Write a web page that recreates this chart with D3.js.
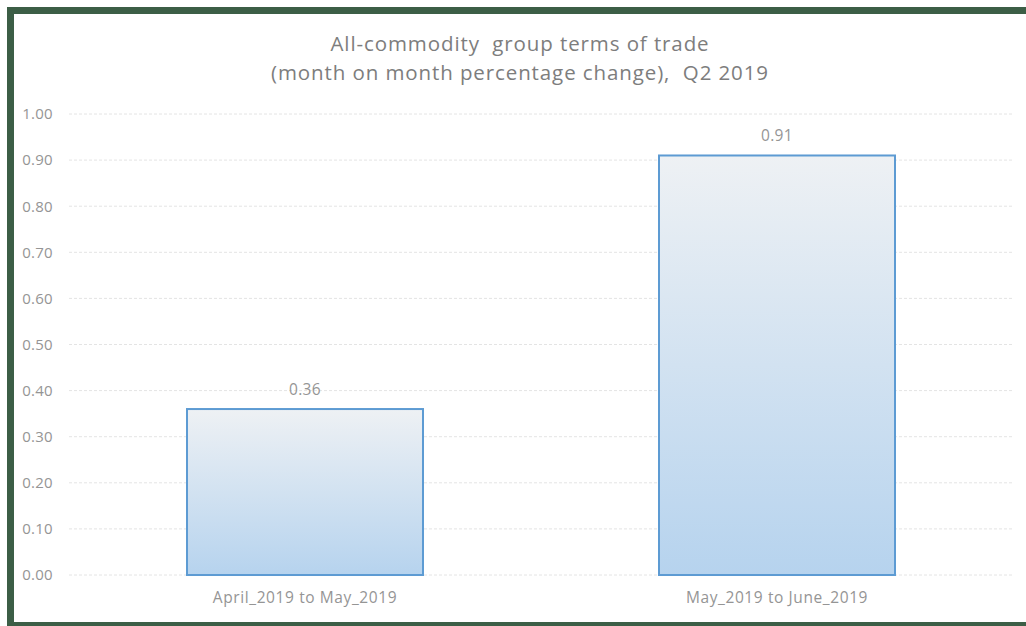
<!DOCTYPE html>
<html><head><meta charset="utf-8">
<script src="https://cdn.jsdelivr.net/npm/d3@7"></script>
<style>body{margin:0;background:#fff}svg{display:block}</style>
</head><body>
<script>
const categories = ["April_2019 to May_2019", "May_2019 to June_2019"];
const values = [0.36, 0.91];
const yTicks = [0,0.1,0.2,0.3,0.4,0.5,0.6,0.7,0.8,0.9,1.0];
const titleLines = ["All-commodity  group terms of trade", "(month on month percentage change),  Q2 2019"];

const W = 1026, H = 626;
const svg = d3.select("body").append("svg").attr("width", W).attr("height", H);
const font = "'Open Sans', Lato, sans-serif";

// frame
svg.append("rect").attr("x",7).attr("y",7).attr("width",W).attr("height",H).attr("fill","#3c5e46");
svg.append("rect").attr("x",14).attr("y",14).attr("width",W).attr("height",608).attr("fill","#fff");

const defs = svg.append("defs");
const g = defs.append("linearGradient").attr("id","bg").attr("x1",0).attr("y1",0).attr("x2",0).attr("y2",1);
g.append("stop").attr("offset","0%").attr("stop-color","#eef1f4");
g.append("stop").attr("offset","100%").attr("stop-color","#b6d3ee");

const x = d3.scaleBand().domain(categories).range([69,1013]).paddingInner(0.5).paddingOuter(0.25);
const y = d3.scaleLinear().domain([0,1]).range([575,114]);

// gridlines
svg.append("g").selectAll("line").data(yTicks).join("line")
  .attr("x1",69).attr("x2",1013).attr("y1",d=>y(d)).attr("y2",d=>y(d))
  .attr("stroke","#e4e4e4").attr("stroke-width",1).attr("stroke-dasharray","3,2");

// y axis labels
const yAxis = d3.axisLeft(y).tickValues(yTicks).tickFormat(d3.format(".2f")).tickSize(0).tickPadding(0);
const ya = svg.append("g").attr("transform","translate(53,0)").call(yAxis);
ya.select(".domain").remove();
ya.selectAll("text").attr("fill","#959595").attr("font-size",15).attr("font-family",font).attr("letter-spacing",0.3);

// bars
svg.append("g").selectAll("rect").data(values).join("rect")
  .attr("x",(d,i)=>x(categories[i])).attr("width",x.bandwidth())
  .attr("y",d=>y(d)).attr("height",d=>y(0)-y(d))
  .attr("fill","url(#bg)").attr("stroke","#5d9bd3").attr("stroke-width",2);

// value labels
svg.append("g").selectAll("text").data(values).join("text")
  .attr("x",(d,i)=>x(categories[i])+x.bandwidth()/2).attr("y",d=>y(d)-14)
  .attr("text-anchor","middle").attr("fill","#959595").attr("font-size",15.5).attr("font-family",font).attr("letter-spacing",0.3)
  .text(d=>d3.format(".2f")(d));

// x axis labels
const xAxis = d3.axisBottom(x).tickSize(0).tickPadding(0);
const xa = svg.append("g").attr("transform","translate(0,592)").call(xAxis);
xa.select(".domain").remove();
xa.selectAll("text").attr("fill","#959595").attr("font-size",15.5).attr("font-family",font).attr("letter-spacing",0.6).attr("dy","0.71em");

// title
svg.append("g").selectAll("text").data(titleLines).join("text")
  .attr("x",520).attr("y",(d,i)=>51+i*29).attr("text-anchor","middle")
  .attr("fill","#7d7d7d").attr("font-size",20.5).attr("font-family",font).attr("letter-spacing",0.9)
  .attr("xml:space","preserve").style("white-space","pre")
  .text(d=>d);
</script>
</body></html>
